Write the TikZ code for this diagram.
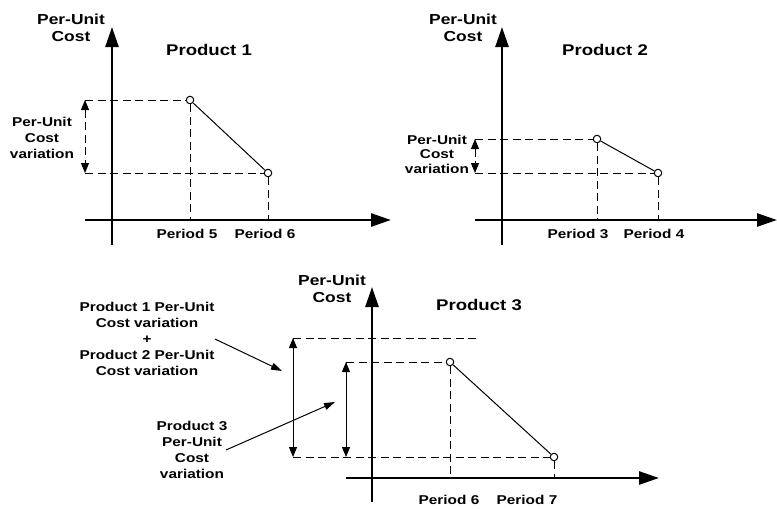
\documentclass[tikz,border=0pt]{standalone}
\usepackage{fontspec}
\setmainfont{Liberation Sans}[BoldFont={Liberation Sans Bold}, BoldFeatures={FakeStretch=1.2}, FakeStretch=1.2]
\usetikzlibrary{arrows.meta}

\begin{document}
\begin{tikzpicture}[
  x=1pt, y=-1pt,
  axis/.style={line width=2.6pt, -{Triangle[length=20pt,width=13pt]}},
  guide/.style={dash pattern=on 8pt off 4.5pt, line width=1pt},
  pt/.style={circle, draw, fill=white, inner sep=0pt, minimum size=7.5pt, line width=1pt},
  lbl/.style={font=\bfseries\fontsize{12.8}{16}\selectfont, align=center, inner sep=0pt},
  ylbl/.style={font=\bfseries\fontsize{14.5}{17}\selectfont, align=center, inner sep=0pt},
  ttl/.style={font=\bfseries\fontsize{15.5}{17}\selectfont, inner sep=0pt},
  span/.style={{Triangle[length=10pt,width=8pt]}-{Triangle[length=10pt,width=8pt]}, line width=1pt},
  pointer/.style={-{Triangle[length=11pt,width=7pt]}, line width=1pt}
]
\useasboundingbox (0,0) rectangle (777,509);

% Product 1
\coordinate (x1s) at (85,220);  \coordinate (x1e) at (391,220);
\coordinate (y1s) at (112,245); \coordinate (y1e) at (112,27);
\draw[axis] (x1s) -- (x1e);
\draw[axis] (y1s) -- (y1e);
\node[ylbl] (yl1) at (71,28) {Per-Unit\\Cost};
\node[ttl] (t1) at (209,50) {Product 1};
\node[pt] (p5) at (190,100) {};
\node[pt] (p6) at (268,173) {};
\coordinate (h1a) at (85,100); \coordinate (h1b) at (85,173);
\coordinate (v5) at (190,220); \coordinate (v6) at (268,220);
\draw[guide] (h1a) -- (p5);
\draw[guide] (h1b) -- (p6);
\draw[guide] (p5) -- (v5);
\draw[guide] (p6) -- (v6);
\draw[line width=1pt] (p5) -- (p6);
\draw[span, guide] (h1a) -- (h1b);
\node[lbl] (var1) at (42,138) {Per-Unit\\Cost\\variation};
\node[lbl] (n5) at (187,234) {Period 5};
\node[lbl] (n6) at (265,234) {Period 6};

% Product 2
\coordinate (x2s) at (475,220); \coordinate (x2e) at (777,220);
\coordinate (y2s) at (502,245); \coordinate (y2e) at (502,27);
\draw[axis] (x2s) -- (x2e);
\draw[axis] (y2s) -- (y2e);
\node[ylbl] (yl2) at (463,28) {Per-Unit\\Cost};
\node[ttl] (t2) at (605,50) {Product 2};
\node[pt] (p3) at (597,139) {};
\node[pt] (p4) at (658,173) {};
\coordinate (h2a) at (475,139); \coordinate (h2b) at (475,173);
\coordinate (v3) at (597,220); \coordinate (v4) at (658,220);
\draw[guide] (h2a) -- (p3);
\draw[guide] (h2b) -- (p4);
\draw[guide] (p3) -- (v3);
\draw[guide] (p4) -- (v4);
\draw[line width=1pt] (p3) -- (p4);
\draw[span, guide] (h2a) -- (h2b);
\node[lbl, font=\bfseries\fontsize{12.8}{14.5}\selectfont] (var2) at (437,154) {Per-Unit\\Cost\\variation};
\node[lbl] (n3) at (578,234) {Period 3};
\node[lbl] (n4) at (654,234) {Period 4};

% Product 3
\coordinate (x3s) at (346,478); \coordinate (x3e) at (659,478);
\coordinate (y3s) at (372,502); \coordinate (y3e) at (372,287);
\draw[axis] (x3s) -- (x3e);
\draw[axis] (y3s) -- (y3e);
\node[ylbl] (yl3) at (332,289) {Per-Unit\\Cost};
\node[ttl] (t3) at (479,305) {Product 3};
\node[pt] (p6b) at (450,362) {};
\node[pt] (p7) at (554,457) {};
\coordinate (h3a) at (293,338); \coordinate (h3e) at (477,338);
\coordinate (h3b) at (346,362); \coordinate (h3c) at (293,457);
\coordinate (h3d) at (346,457);
\coordinate (v6b) at (450,478); \coordinate (v7) at (554,478);
\draw[guide] (h3a) -- (h3e);
\draw[guide] (h3b) -- (p6b);
\draw[guide] (h3c) -- (p7);
\draw[guide] (p6b) -- (v6b);
\draw[guide] (p7) -- (v7);
\draw[line width=1pt] (p6b) -- (p7);
\draw[span] (h3a) -- (h3c);
\draw[span] (h3b) -- (h3d);
\node[lbl] (sum) at (147,339) {Product 1 Per-Unit\\Cost variation\\+\\Product 2 Per-Unit\\Cost variation};
\node[lbl] (var3) at (192,450) {Product 3\\Per-Unit\\Cost\\variation};
\coordinate (a1) at (282,371); \coordinate (a2) at (335,402);
\draw[pointer] (215,339) -- (a1);
\draw[pointer] (226,450) -- (a2);
\node[lbl] (n6b) at (449,500) {Period 6};
\node[lbl] (n7) at (527,500) {Period 7};

\end{tikzpicture}
\end{document}
